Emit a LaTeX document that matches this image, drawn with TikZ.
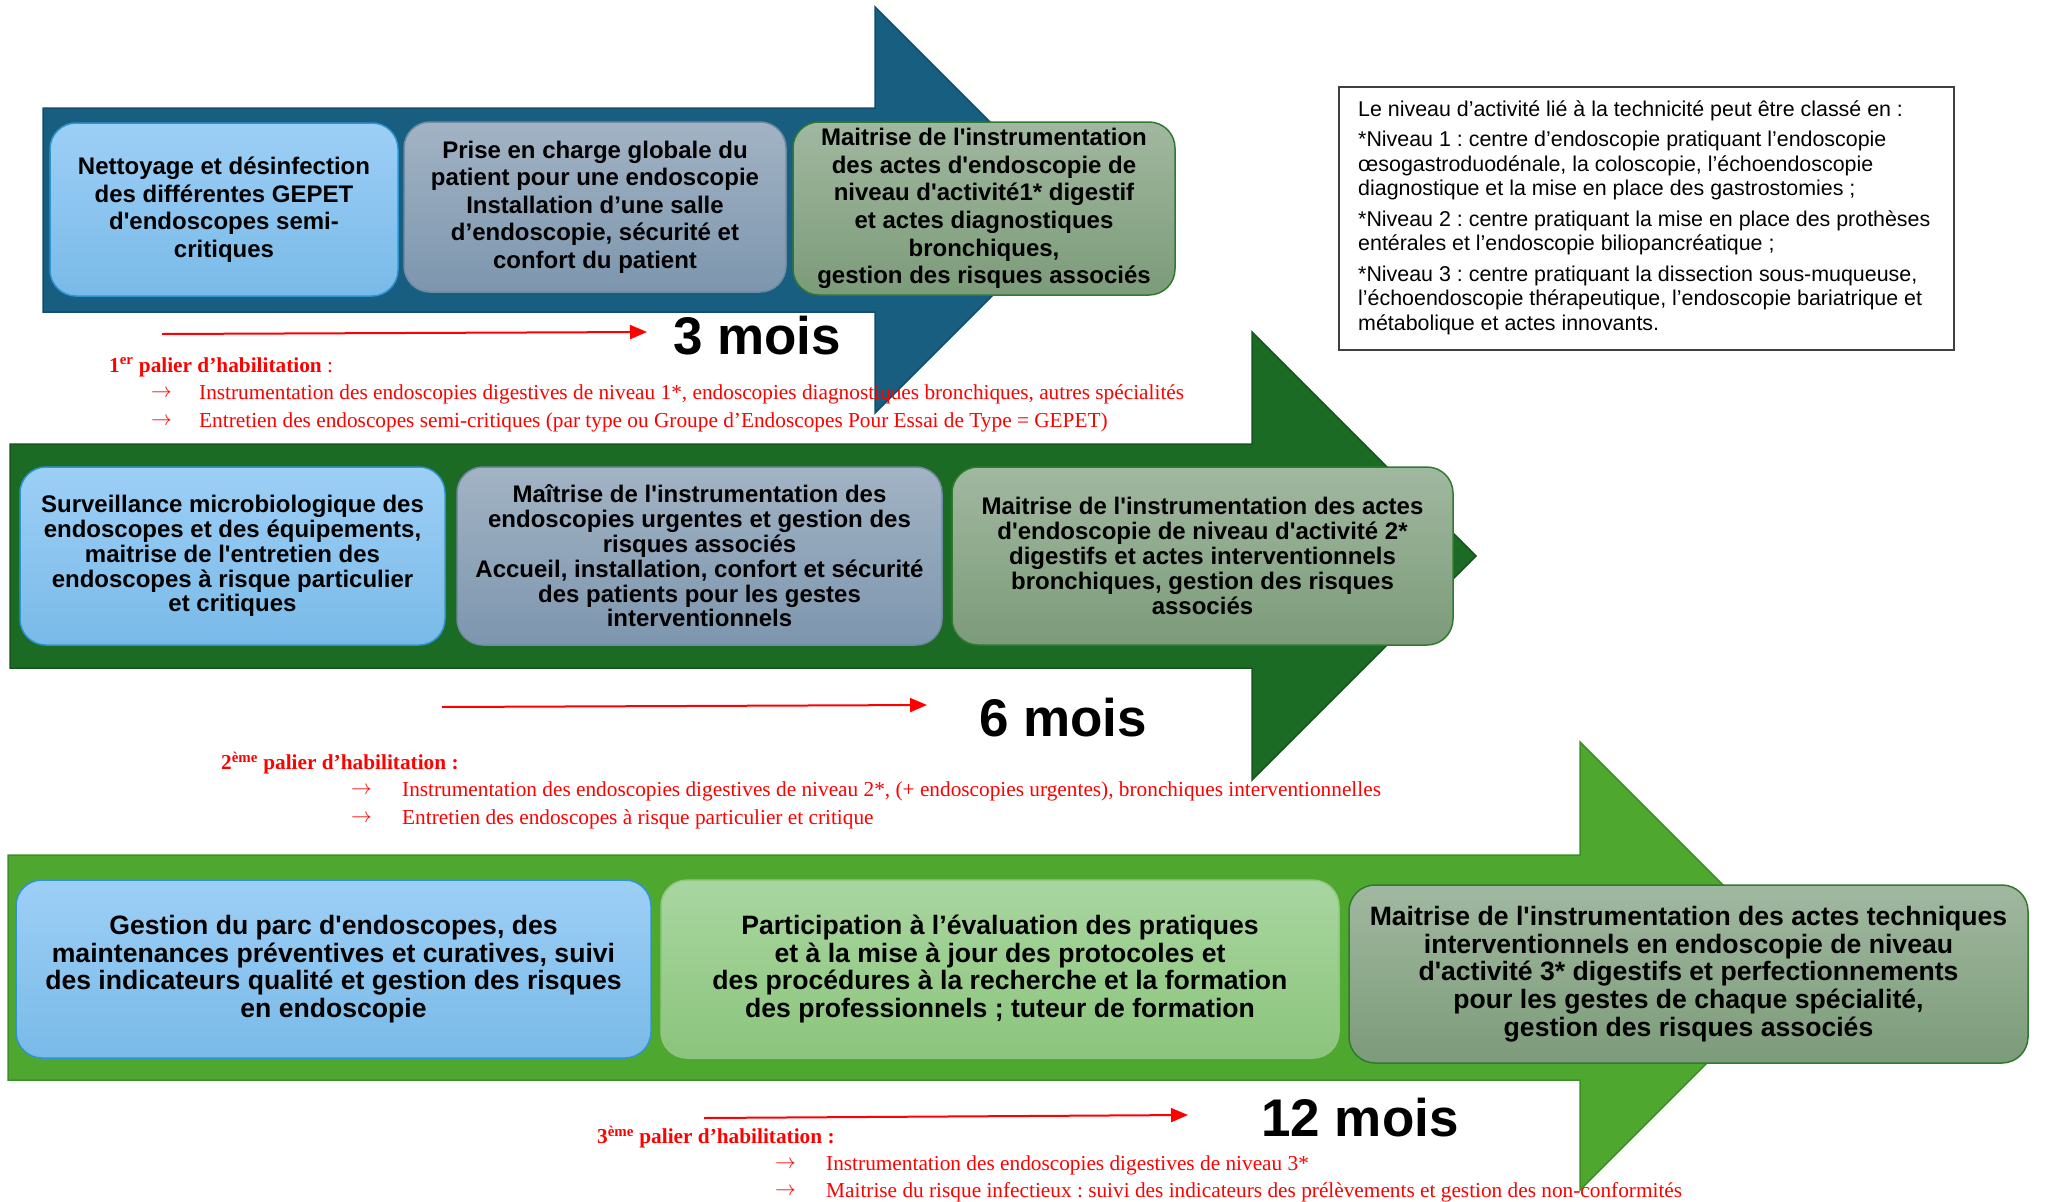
\documentclass[tikz,border=0pt]{standalone}
\usepackage{fontspec}
\setmainfont{Liberation Sans}
\newfontfamily\bxfont{Liberation Sans}
\newfontfamily\serifred{Liberation Serif}
\usetikzlibrary{arrows.meta}
\frenchspacing

\definecolor{arrA}{HTML}{185E80}
\definecolor{arrAe}{HTML}{114E6C}
\definecolor{arrB}{HTML}{1B6B24}
\definecolor{arrBe}{HTML}{14561B}
\definecolor{arrC}{HTML}{4EA72E}
\definecolor{arrCe}{HTML}{3E8E26}
\definecolor{lbT}{HTML}{9DCFF6}
\definecolor{lbB}{HTML}{79BAE8}
\definecolor{lbE}{HTML}{2E95D3}
\definecolor{gbT}{HTML}{A2B3C4}
\definecolor{gbB}{HTML}{7D96AE}
\definecolor{gbE}{HTML}{6F8AA3}
\definecolor{ggT}{HTML}{A1B8A0}
\definecolor{ggB}{HTML}{7C9B79}
\definecolor{ggE}{HTML}{2F7A2F}
\definecolor{lgT}{HTML}{A9D6A0}
\definecolor{lgB}{HTML}{8BC47C}
\definecolor{lgE}{HTML}{8FC682}
\definecolor{infoE}{HTML}{404040}

\tikzset{
  bigarrow/.style={line width=1.5pt, line join=miter},
  card/.style={rounded corners=26pt, line width=1.5pt, align=center, inner sep=0pt, text=black},
  lightblue/.style={card, draw=lbE, top color=lbT, bottom color=lbB},
  greyblue/.style={card, draw=gbE, top color=gbT, bottom color=gbB},
  greygreen/.style={card, draw=ggE, top color=ggT, bottom color=ggB},
  lightgreen/.style={card, draw=lgE, top color=lgT, bottom color=lgB},
  rowone/.style={font=\bxfont\bfseries\fontsize{24}{27.6}\selectfont},
  rowtwo/.style={font=\bxfont\bfseries\fontsize{24}{24.8}\selectfont},
  rowthree/.style={font=\bxfont\bfseries\fontsize{26.6}{27.7}\selectfont},
  redt/.style={text=red, font=\serifred\fontsize{21.3}{25}\selectfont, anchor=west, inner sep=0pt},
  redh/.style={redt, font=\serifred\bfseries\fontsize{21.3}{25}\selectfont},
  redbullet/.style={redt, font=\fontsize{20}{24}\selectfont},
  redarrow/.style={draw=red, line width=2pt, -{Triangle[length=17pt,width=14pt]}},
  months/.style={font=\bxfont\bfseries\fontsize{53}{60}\selectfont, inner sep=0pt}
}

\begin{document}
\begin{tikzpicture}[x=1pt,y=-1pt]
\useasboundingbox (0,0) rectangle (2065,1202);

% big arrows
\fill[arrA, draw=arrAe, bigarrow] (43,108) -- (875,108) -- (875,7) -- (1078,210) -- (875,413) -- (875,312) -- (43,312) -- cycle;
\fill[arrB, draw=arrBe, bigarrow] (10,444) -- (1252,444) -- (1252,332) -- (1476,556) -- (1252,780) -- (1252,668) -- (10,668) -- cycle;
\fill[arrC, draw=arrCe, bigarrow] (8,855) -- (1580,855) -- (1580,742) -- (1804,966) -- (1580,1190) -- (1580,1080) -- (8,1080) -- cycle;

% row 1
\node[lightblue, rowone, minimum width=348pt, minimum height=173pt] (b1a) at (224,209.5)
  {Nettoyage et désinfection\\des différentes GEPET\\d'endoscopes semi-\\critiques};
\node[greyblue, rowone, minimum width=382pt, minimum height=170pt] (b1b) at (595,207)
  {Prise en charge globale du\\patient pour une endoscopie\\Installation d’une salle\\d’endoscopie, sécurité et\\confort du patient};
\node[greygreen, rowone, minimum width=382pt, minimum height=173pt] (b1c) at (984,208.5)
  {Maitrise de l'instrumentation\\des actes d'endoscopie de\\niveau d'activité1* digestif\\et actes diagnostiques\\bronchiques,\\gestion des risques associés};

% row 2
\node[lightblue, rowtwo, minimum width=425pt, minimum height=178pt] (b2a) at (232.5,556)
  {Surveillance microbiologique des\\endoscopes et des équipements,\\maitrise de l'entretien des\\endoscopes à risque particulier\\et critiques};
\node[greyblue, rowtwo, minimum width=485pt, minimum height=178pt] (b2b) at (699.5,556)
  {Maîtrise de l'instrumentation des\\endoscopies urgentes et gestion des\\risques associés\\Accueil, installation, confort et sécurité\\des patients pour les gestes\\interventionnels};
\node[greygreen, rowtwo, minimum width=501pt, minimum height=178pt] (b2c) at (1202.5,556)
  {Maitrise de l'instrumentation des actes\\d'endoscopie de niveau d'activité 2*\\digestifs et actes interventionnels\\bronchiques, gestion des risques\\associés};

% row 3
\node[lightblue, rowthree, minimum width=635pt, minimum height=178pt] (b3a) at (333.5,969)
  {Gestion du parc d'endoscopes, des\\maintenances préventives et curatives, suivi\\des indicateurs qualité et gestion des risques\\en endoscopie};
\node[lightgreen, rowthree, minimum width=678pt, minimum height=178pt] (b3b) at (1000,969)
  {Participation à l’évaluation des pratiques\\et à la mise à jour des protocoles et\\des procédures à la recherche et la formation\\des professionnels ; tuteur de formation};
\node[greygreen, rowthree, minimum width=679pt, minimum height=178pt] (b3c) at (1688.5,974)
  {Maitrise de l'instrumentation des actes techniques\\interventionnels en endoscopie de niveau\\d'activité 3* digestifs et perfectionnements\\pour les gestes de chaque spécialité,\\gestion des risques associés};

% info box
\node[draw=infoE, line width=1.5pt, minimum width=615pt, minimum height=263pt, inner sep=0pt] (info) at (1646.5,218.5) {};
\node[anchor=west, align=left, inner sep=0pt, font=\bxfont\fontsize{21.4}{24.5}\selectfont] (infotext) at (1358,217.5)
  {Le niveau d’activité lié à la technicité peut être classé en :\\[6pt]
   *Niveau 1 : centre d’endoscopie pratiquant l’endoscopie\\
   œsogastroduodénale, la coloscopie, l’échoendoscopie\\
   diagnostique et la mise en place des gastrostomies ;\\[6pt]
   *Niveau 2 : centre pratiquant la mise en place des prothèses\\
   entérales et l’endoscopie biliopancréatique ;\\[6pt]
   *Niveau 3 : centre pratiquant la dissection sous-muqueuse,\\
   l’échoendoscopie thérapeutique, l’endoscopie bariatrique et\\
   métabolique et actes innovants.};

% durations
\node[months] (m3) at (757,336) {3 mois};
\node[months] (m6) at (1063,718) {6 mois};
\node[months] (m12) at (1360,1118) {12 mois};

% red timeline arrows
\coordinate (r1s) at (162,334); \coordinate (r1e) at (647,332);
\coordinate (r2s) at (442,707); \coordinate (r2e) at (927,705);
\coordinate (r3s) at (704,1118); \coordinate (r3e) at (1188,1115);
\draw[redarrow] (r1s) -- (r1e);
\draw[redarrow] (r2s) -- (r2e);
\draw[redarrow] (r3s) -- (r3e);

% stage 1
\node[redh] (p1) at (109,367) {1\textsuperscript{er} palier d’habilitation \textmd{:}};
\node[redbullet] (p1a) at (151,394) {$\rightarrow$};
\node[redt] (p1at) at (199,394) {Instrumentation des endoscopies digestives de niveau 1*, endoscopies diagnostiques bronchiques, autres spécialités};
\node[redbullet] (p1b) at (151,422) {$\rightarrow$};
\node[redt] (p1bt) at (199,422) {Entretien des endoscopes semi-critiques (par type ou Groupe d’Endoscopes Pour Essai de Type = GEPET)};

% stage 2
\node[redh] (p2) at (221,763) {2\textsuperscript{ème} palier d’habilitation :};
\node[redbullet] (p2a) at (351,791) {$\rightarrow$};
\node[redt] (p2at) at (402,791) {Instrumentation des endoscopies digestives de niveau 2*, (+ endoscopies urgentes), bronchiques interventionnelles};
\node[redbullet] (p2b) at (351,819) {$\rightarrow$};
\node[redt] (p2bt) at (402,819) {Entretien des endoscopes à risque particulier et critique};

% stage 3
\node[redh] (p3) at (597,1137) {3\textsuperscript{ème} palier d’habilitation :};
\node[redbullet] (p3a) at (775,1165) {$\rightarrow$};
\node[redt] (p3at) at (826,1165) {Instrumentation des endoscopies digestives de niveau 3*};
\node[redbullet] (p3b) at (775,1192) {$\rightarrow$};
\node[redt] (p3bt) at (826,1192) {Maitrise du risque infectieux : suivi des indicateurs des prélèvements et gestion des non-conformités};
\end{tikzpicture}
\end{document}
